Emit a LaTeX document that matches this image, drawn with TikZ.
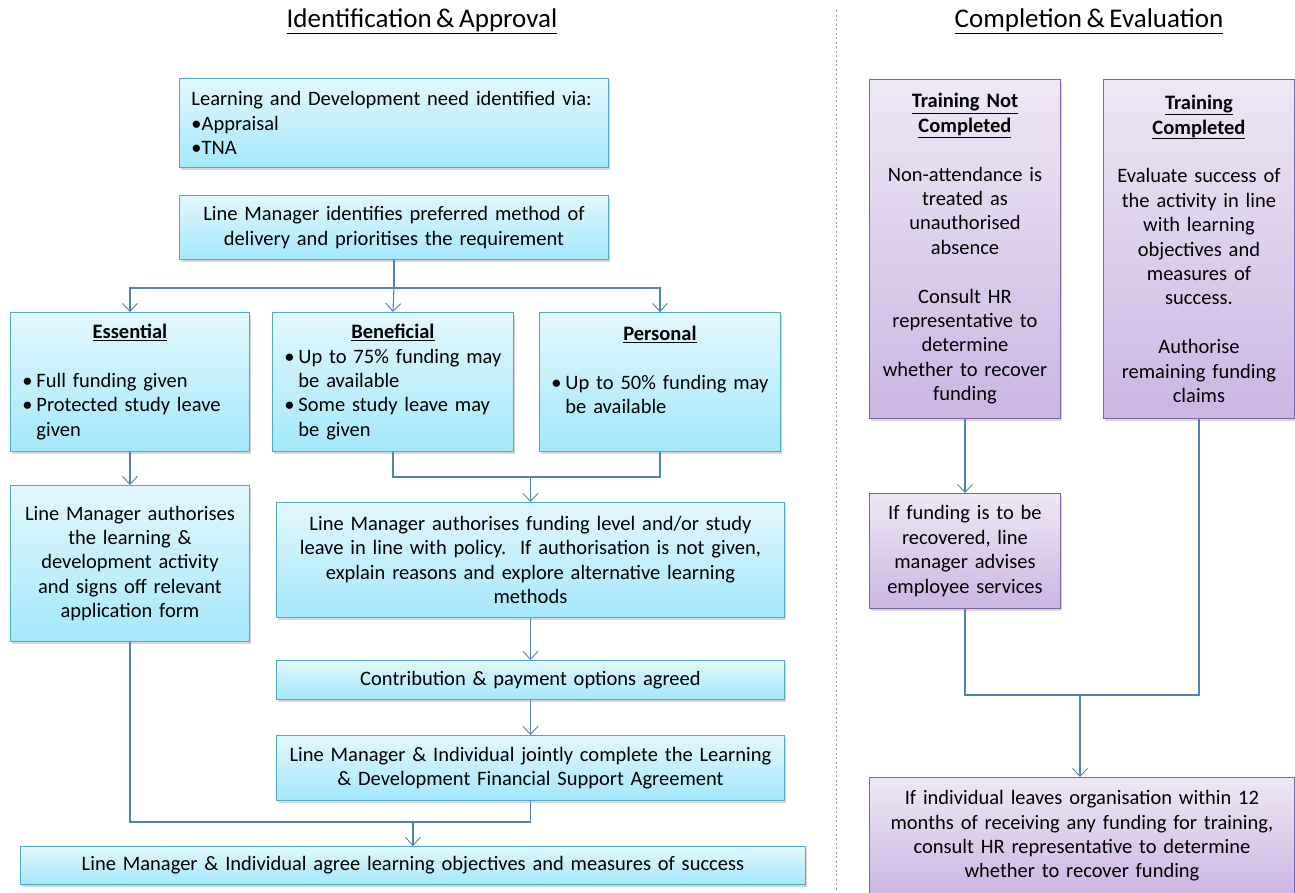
\documentclass[tikz,border=0pt]{standalone}
\usepackage{fontspec}
\setmainfont{Carlito}[WordSpace=0.75]
\usetikzlibrary{arrows.meta,shadows}
\definecolor{bbord}{HTML}{4BACC6}
\definecolor{btop}{HTML}{E3F7FD}
\definecolor{bbot}{HTML}{A3E8FB}
\definecolor{pbord}{HTML}{8064A2}
\definecolor{ptop}{HTML}{EEE8F6}
\definecolor{pbot}{HTML}{CBB5E2}
\definecolor{cline}{HTML}{4F81BD}
\definecolor{sepcol}{HTML}{7F98B8}
\newcommand\boxfont{\fontsize{20.5}{24.4}\selectfont}
\newcommand\titlefont{\fontsize{27}{31}\selectfont}
\newcommand\bitem[1]{\mbox{\makebox[14pt][l]{\textbullet}#1}}
\newcommand\bcont[1]{\mbox{\hspace*{14pt}#1}}
\newcommand\hd[1]{\makebox[\linewidth]{\textbf{\underline{#1}}}}
\begin{document}
\begin{tikzpicture}[x=1pt,y=1pt,
 bbox/.style={draw=bbord, line width=0.9pt, top color=btop, bottom color=bbot,
   drop shadow={opacity=0.3,shadow xshift=2pt,shadow yshift=-2.5pt},
   anchor=north west, inner xsep=4pt, inner ysep=0pt, align=center, font=\boxfont},
 lbox/.style={bbox, align=left, inner xsep=12pt},
 pbox/.style={bbox, draw=pbord, top color=ptop, bottom color=pbot},
 link/.style={draw=cline, line width=1.1pt},
 arr/.style={link, -{Straight Barb[length=8pt,width=15pt,line width=0.9pt]}},
]
\clip (0,0) rectangle (1295,-892);
\fill[white] (0,0) rectangle (1295,-892);

% titles
\node[font=\titlefont] (t1) at (422,-21) {\underline{Identification \& Approval}};
\node[font=\titlefont] (t2) at (1089,-21) {\underline{Completion \& Evaluation}};
\draw[sepcol, line width=0.8pt, dash pattern=on 2pt off 2.5pt] (836,-10) -- (836,-892);

% left column
\node[lbox, text width=405, minimum height=89] (n1) at (179,-78)
 {\mbox{Learning and Development need identified via:}\\ \textbullet Appraisal\\ \textbullet TNA};
\node[bbox, text width=421, minimum height=64] (n2) at (179,-195)
 {Line Manager identifies preferred method of\\ delivery and prioritises the requirement};

\node[lbox, text width=215, minimum height=139] (ess) at (10,-312)
 {\hd{Essential}\\ \mbox{}\\ \bitem{Full funding given}\\ \bitem{Protected study leave}\\ \bcont{given}};
\node[lbox, text width=217, minimum height=139] (ben) at (272,-312)
 {\hd{Beneficial}\\ \bitem{Up to 75\% funding may}\\ \bcont{be available}\\ \bitem{Some study leave may}\\ \bcont{be given}};
\node[lbox, text width=217, minimum height=139] (per) at (539,-312)
 {\hd{Personal}\\ \mbox{}\\ \bitem{Up to 50\% funding may}\\ \bcont{be available}\\ \mbox{}};

\node[bbox, text width=231, minimum height=156] (lma) at (10,-485)
 {Line Manager authorises\\ the learning \&\\ development activity\\ and signs off relevant\\ application form};
\node[bbox, text width=500, minimum height=115] (big) at (276,-502)
 {Line Manager authorises funding level and/or study\\ leave in line with policy.\ \ If authorisation is not given,\\ explain reasons and explore alternative learning\\ methods};
\node[bbox, text width=500, minimum height=39] (con) at (276,-660)
 {Contribution \& payment options agreed};
\node[bbox, text width=500, minimum height=65] (agr) at (276,-735)
 {Line Manager \& Individual jointly complete the Learning\\ \& Development Financial Support Agreement};
\node[bbox, text width=777, minimum height=38] (fin) at (20,-846)
 {Line Manager \& Individual agree learning objectives and measures of success};

% left connectors
\coordinate (j1) at (n2.south |- 0,-288);
\draw[link] (n2.south) -- (j1);
\draw[arr] (j1) -| (ess.north);
\draw[arr] (j1) -- (ben.north);
\draw[arr] (j1) -| (per.north);
\draw[arr] (ess.south) -- (lma.north);
\coordinate (j2) at (big.north |- 0,-477);
\draw[link] (ben.south) |- (j2) -| (per.south);
\draw[arr] (j2) -- (big.north);
\draw[arr] (big.south) -- (con.north);
\draw[arr] (con.south) -- (agr.north);
\coordinate (j3) at (fin.north |- 0,-822);
\draw[link] (lma.south) |- (j3) -| (agr.south);
\draw[arr] (j3) -- (fin.north);

% right column
\node[pbox, text width=183, minimum height=339] (tnc) at (869,-79)
 {\textbf{\underline{Training Not}}\\ \textbf{\underline{Completed}}\\ \mbox{}\\ Non-attendance is\\ treated as\\ unauthorised\\ absence\\ \mbox{}\\ Consult HR\\ representative to\\ determine\\ whether to recover\\ funding};
\node[pbox, text width=183, minimum height=339] (tc) at (1103,-79)
 {\textbf{\underline{Training}}\\ \textbf{\underline{Completed}}\\ \mbox{}\\ Evaluate success of\\ the activity in line\\ with learning\\ objectives and\\ measures of\\ success.\\ \mbox{}\\ Authorise\\ remaining funding\\ claims};
\node[pbox, text width=183, minimum height=115] (rec) at (869,-493)
 {If funding is to be\\ recovered, line\\ manager advises\\ employee services};
\node[pbox, text width=417, minimum height=117] (lv) at (869,-777)
 {If individual leaves organisation within 12\\ months of receiving any funding for training,\\ consult HR representative to determine\\ whether to recover funding};

\draw[arr] (tnc.south) -- (rec.north);
\coordinate (j4) at (1080,-695);
\draw[link] (rec.south) |- (j4) -| (tc.south);
\draw[arr] (j4) -- (j4 |- lv.north);
\end{tikzpicture}
\end{document}
